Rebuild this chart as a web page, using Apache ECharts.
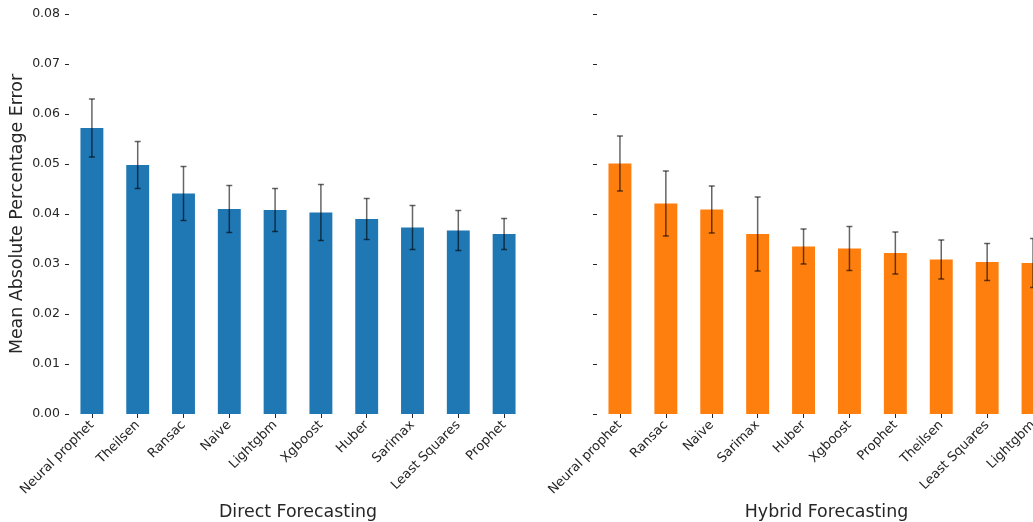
<!DOCTYPE html>
<html>
<head>
<meta charset="utf-8">
<script src="https://cdn.jsdelivr.net/npm/echarts@6/dist/echarts.min.js"></script>
<style>
html,body{margin:0;padding:0;background:#fff;}
#chart{width:1033px;height:522px;}
</style>
</head>
<body>
<div id="chart"></div>
<script>
// ---- data ----
const directCategories = ['Neural prophet','Theilsen','Ransac','Naive','Lightgbm','Xgboost','Huber','Sarimax','Least Squares','Prophet'];
const directMape = [0.0572, 0.0498, 0.0441, 0.0410, 0.0408, 0.0403, 0.0390, 0.0373, 0.0367, 0.0360];
const directErr  = [0.0058, 0.0047, 0.0054, 0.0047, 0.0043, 0.0056, 0.0041, 0.0044, 0.0040, 0.0031];

const hybridCategories = ['Neural prophet','Ransac','Naive','Sarimax','Huber','Xgboost','Prophet','Theilsen','Least Squares','Lightgbm'];
const hybridMape = [0.0501, 0.0421, 0.0409, 0.0360, 0.0335, 0.0331, 0.0322, 0.0309, 0.0304, 0.0302];
const hybridErr  = [0.0055, 0.0065, 0.0047, 0.0074, 0.0035, 0.0044, 0.0042, 0.0039, 0.0037, 0.0049];

const yTicks = [0, 0.01, 0.02, 0.03, 0.04, 0.05, 0.06, 0.07, 0.08];

// ---- chart ----
const chart = echarts.init(document.getElementById('chart'));
const textColor = '#262626';
const font = 'DejaVu Sans';

function errData(vals, errs) {
  return vals.map((v, i) => [i, v - errs[i], v + errs[i]]);
}
function errRender(params, api) {
  const i = api.value(0);
  const lo = api.coord([i, api.value(1)]);
  const hi = api.coord([i, api.value(2)]);
  const hw = 3;
  const style = { stroke: '#000', lineWidth: 1.5, opacity: 0.6 };
  return {
    type: 'group',
    children: [
      { type: 'line', shape: { x1: hi[0], y1: hi[1], x2: lo[0], y2: lo[1] }, style },
      { type: 'line', shape: { x1: hi[0] - hw, y1: hi[1], x2: hi[0] + hw, y2: hi[1] }, style },
      { type: 'line', shape: { x1: lo[0] - hw, y1: lo[1], x2: lo[0] + hw, y2: lo[1] }, style }
    ]
  };
}

function xAxis(idx, cats, name) {
  return {
    type: 'category', gridIndex: idx, data: cats,
    axisLine: { show: false },
    axisTick: { show: true, alignWithLabel: true, length: 4, lineStyle: { color: textColor } },
    axisLabel: { rotate: 45, interval: 0, margin: 9, color: textColor, fontFamily: font, fontSize: 13 },
    name: name, nameLocation: 'middle', nameGap: 88,
    nameTextStyle: { color: textColor, fontFamily: font, fontSize: 17.4 }
  };
}
function yAxis(idx, showLabels) {
  return {
    type: 'value', gridIndex: idx, min: yTicks[0], max: yTicks[yTicks.length - 1], interval: yTicks[1] - yTicks[0],
    splitLine: { show: false },
    axisLine: { show: false },
    axisTick: { show: true, length: 4, lineStyle: { color: textColor } },
    axisLabel: { show: showLabels, margin: 9, color: textColor, fontFamily: font, fontSize: 12.5,
      formatter: v => v.toFixed(2) },
    name: showLabels ? 'Mean Absolute Percentage Error' : '',
    nameLocation: 'middle', nameGap: 43,
    nameTextStyle: { color: textColor, fontFamily: font, fontSize: 17.4 }
  };
}

chart.setOption({
  animation: false,
  backgroundColor: '#fff',
  grid: [
    { left: 69, width: 458, top: 14, height: 400, containLabel: false, outerBoundsMode: 'none' },
    { left: 597, width: 459, top: 14, height: 400, containLabel: false, outerBoundsMode: 'none' }
  ],
  xAxis: [xAxis(0, directCategories, 'Direct Forecasting'), xAxis(1, hybridCategories, 'Hybrid Forecasting')],
  yAxis: [yAxis(0, true), yAxis(1, false)],
  series: [
    { type: 'bar', xAxisIndex: 0, yAxisIndex: 0, data: directMape, barWidth: '50%',
      itemStyle: { color: '#1f77b4' } },
    { type: 'bar', xAxisIndex: 1, yAxisIndex: 1, data: hybridMape, barWidth: '50%',
      itemStyle: { color: '#ff7f0e' } },
    { type: 'custom', xAxisIndex: 0, yAxisIndex: 0, data: errData(directMape, directErr),
      renderItem: errRender, z: 5 },
    { type: 'custom', xAxisIndex: 1, yAxisIndex: 1, data: errData(hybridMape, hybridErr),
      renderItem: errRender, z: 5 }
  ]
});
</script>
</body>
</html>
